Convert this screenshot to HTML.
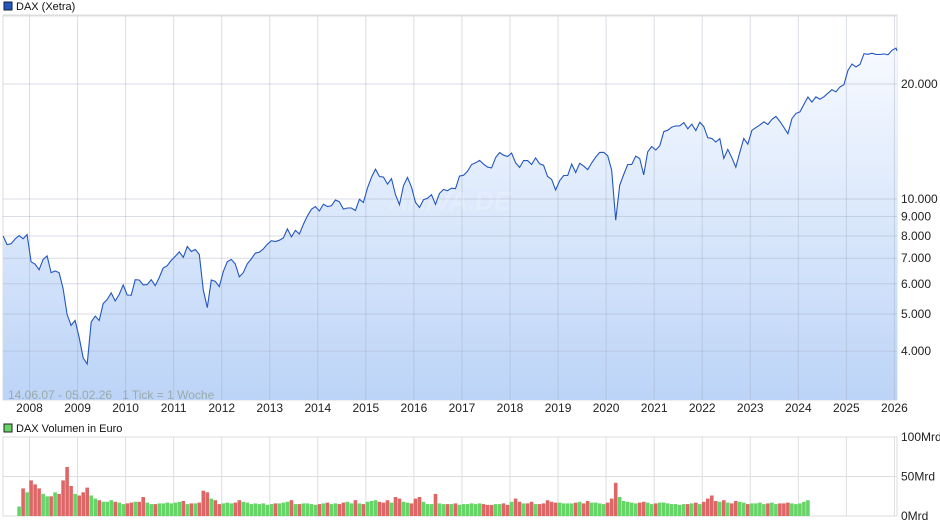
<!DOCTYPE html>
<html><head><meta charset="utf-8"><style>
body{margin:0;background:#fff;width:940px;height:526px;overflow:hidden;font-family:"Liberation Sans",sans-serif}
svg text{font-family:"Liberation Sans",sans-serif}
</style></head><body>
<svg id="c" width="940" height="526">
<defs><linearGradient id="g" x1="0" y1="0" x2="0" y2="1"><stop offset="0" stop-color="#f7faff"/><stop offset="1" stop-color="#bcd4f7"/></linearGradient></defs>
</svg>
<script>
const startYear=2007.45;
const price=[8000,7600,7640,7860,8020,7870,8070,
6850,6750,6530,6950,7100,6420,6480,6420,5830,4990,4670,4810,
4340,3840,3700,4770,4940,4810,5330,5460,5680,5410,5630,5960,
5610,5600,6150,6140,5960,5970,6150,5930,6230,6600,6690,6910,
7080,7270,7040,7510,7290,7380,7160,5780,5200,6140,6090,5900,
6460,6860,6950,6760,6260,6420,6770,6970,7220,7260,7400,7610,
7780,7740,7800,7910,8350,7960,8280,8100,8590,9030,9400,9550,
9300,9690,9560,9600,9940,9830,9410,9470,9470,9330,9980,9800,
10690,11400,11970,11450,11410,10940,11310,10260,9660,10850,11380,10740,
9800,9500,9960,10040,10260,9680,10340,10590,10510,10670,10640,11480,
11540,11830,12310,12440,12620,12330,12120,12060,12830,13230,13020,12920,
13190,12440,12100,12610,12600,12310,12810,12360,12250,11450,11260,10560,
11170,11520,11530,12340,11730,12400,12190,11940,12430,12870,13240,13250,
12980,11890,8800,10860,11590,12310,12310,12950,12760,11560,13290,13720,
13430,13790,15010,15140,15420,15530,15540,15840,15260,15690,15100,15880,
15470,14460,14410,14100,14390,12780,13480,12830,12110,13250,14400,13920,
15130,15370,15630,15920,15660,16150,16450,15950,15390,14810,16220,16750,
16900,17680,18490,17930,18500,18240,18510,18910,19320,19080,19630,19910,
21730,22550,22160,22500,23990,23910,24070,23900,23880,23960,23840,24490,
24800,24400];
const volume=[0,0,0,0,12,35,30,
45,40,35,28,25,25,30,28,45,62,38,28,
26,30,36,26,22,20,18,18,20,18,17,15,
16,17,18,18,24,17,15,15,16,16,17,16,
17,18,19,15,16,16,17,32,30,22,20,15,
16,17,16,17,20,18,17,15,16,15,16,14,
15,16,16,17,18,20,15,15,16,16,15,14,
15,16,17,15,16,15,17,18,16,20,16,15,
18,19,20,18,17,20,17,24,22,18,17,16,
22,24,18,15,15,28,16,15,15,15,16,14,
15,15,16,15,16,15,14,14,15,15,16,14,
18,22,18,16,16,18,15,15,16,20,18,17,
17,16,16,16,17,18,16,19,17,17,16,15,
17,22,42,24,19,18,17,16,17,18,17,15,
16,17,17,16,15,15,14,15,15,16,17,15,
18,22,26,19,18,20,17,16,19,18,17,15,
16,16,17,15,16,17,15,16,16,17,16,15,
16,18,20];
const yearTicks=[2008,2009,2010,2011,2012,2013,2014,2015,2016,2017,2018,2019,2020,2021,2022,2023,2024,2025,2026];
const priceTicks=[4000,5000,6000,7000,8000,9000,10000,20000];
const priceLabels=["4.000","5.000","6.000","7.000","8.000","9.000","10.000","20.000"];
const volTicks=[0,50,100];
const volLabels=["0Mrd","50Mrd","100Mrd"];

const NS="http://www.w3.org/2000/svg",svg=document.getElementById('c');
function el(t,a,p){const e=document.createElementNS(NS,t);for(const k in a)e.setAttribute(k,a[k]);(p||svg).appendChild(e);return e;}
const X=y=>29.5+(y-2008)*48.05;
const Y=v=>199-166*Math.log(v/10000);
const VY=v=>516-0.79*v;
const L=3,R=897,T=15,B=400,VT=437,VB=516;

const mg=el('g',{});
el('rect',{x:L,y:T,width:R-L,height:B-T,fill:'#fff',stroke:'#ddd'},mg);
const xs=price.map((v,i)=>Math.min(X(startYear+i/12),R));
let d='M'+xs[0]+','+B;price.forEach((v,i)=>d+='L'+xs[i].toFixed(1)+','+Y(v).toFixed(1));d+='L'+xs[xs.length-1].toFixed(1)+','+B+'Z';
const area=el('path',{d,fill:'url(#g)'},mg);
yearTicks.forEach(y=>{const l=el('line',{x1:X(y),x2:X(y),y1:T,y2:B,stroke:'rgba(160,170,190,0.4)'},mg);
const vl=el('line',{x1:X(y),x2:X(y),y1:VT,y2:VB,stroke:'#ddd'});
const t=el('text',{x:X(y),y:412,'font-size':12,'text-anchor':'middle',fill:'#222'});t.textContent=y;});
priceTicks.forEach((v,i)=>{const l=el('line',{x1:L,x2:R,y1:Y(v),y2:Y(v),stroke:'rgba(160,170,190,0.4)'},mg);
const t=el('text',{x:901,y:Y(v)+4,'font-size':12,fill:'#222'});t.textContent=priceLabels[i];});
el('line',{x1:L,x2:R,y1:16,y2:16,stroke:'#ddd'},mg);
const wm=el('text',{x:450,y:210,'font-size':26,'font-style':'italic','font-weight':'bold',fill:'rgba(255,255,255,0.18)','text-anchor':'middle'},mg);wm.textContent='ARIVA.DE';
let ld='';price.forEach((v,i)=>ld+=(i?'L':'M')+xs[i].toFixed(1)+','+Y(v).toFixed(1));
const line=el('path',{d:ld,fill:'none',stroke:'#2456c0','stroke-width':1.1},mg);
const info=el('text',{x:8,y:399,'font-size':12,fill:'#9aa',style:'white-space:pre'});info.textContent='14.06.07 - 05.02.26   1 Tick = 1 Woche';

const lg1=el('rect',{x:4,y:2,width:8,height:8,fill:'#2456c0',stroke:'#123'});
const lt1=el('text',{x:16,y:10,'font-size':11,fill:'#111'});lt1.textContent='DAX (Xetra)';
const lg2=el('rect',{x:4,y:424,width:8,height:8,fill:'#66d466',stroke:'#222'});
const lt2=el('text',{x:16,y:432,'font-size':11,fill:'#111'});lt2.textContent='DAX Volumen in Euro';

el('rect',{x:L,y:VT,width:R-L,height:VB-VT,fill:'none',stroke:'#ddd'});
volTicks.forEach((v,i)=>{const l=el('line',{x1:L,x2:R,y1:VY(v),y2:VY(v),stroke:'#ddd'});
const t=el('text',{x:901,y:VY(v)+4,'font-size':12,fill:'#222'});t.textContent=volLabels[i];});
volume.forEach((v,i)=>{if(!v)return;const x=X(startYear+i/12);const up=i==0||price[i]>=price[i-1];
const b=el('rect',{x:(x-1.8).toFixed(1),y:VY(v).toFixed(1),width:3.6,height:(VB-VY(v)).toFixed(1),fill:up?'#66d466':'#dd6666'});

});
</script>
</body></html>
